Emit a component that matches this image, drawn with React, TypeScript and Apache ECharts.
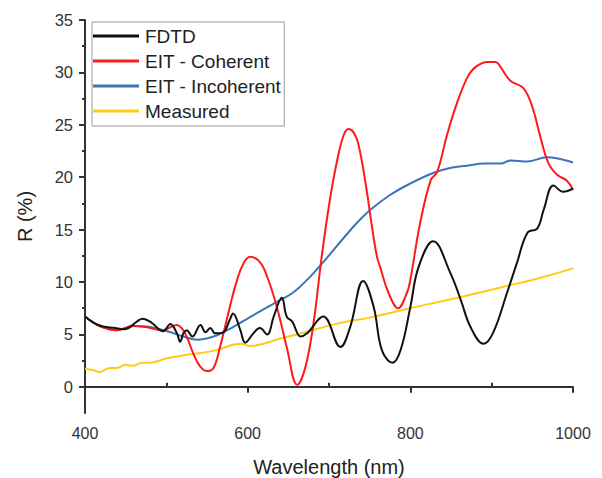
import React, { useEffect, useRef } from "react";
import * as echarts from "echarts";

const fdtdX = [400, 416, 437, 449, 465, 471, 482, 496, 505, 513, 517, 521, 525, 532, 542, 548, 554, 560, 570, 578, 582, 591, 597, 607, 615, 624, 632, 642, 648, 655, 665, 673, 693, 714, 726, 742, 755, 765, 778, 788, 800, 810, 828, 849, 862, 874, 890, 902, 919, 931, 944, 956, 964, 976, 988, 1000];
const fdtdY = [6.7, 5.9, 5.6, 5.5, 6.3, 6.5, 6.1, 5.3, 6.0, 5.1, 4.3, 5.1, 5.4, 4.8, 5.9, 5.2, 5.6, 5.1, 5.2, 6.4, 7.0, 5.4, 4.2, 5.1, 5.6, 5.0, 6.7, 8.5, 6.7, 6.2, 4.8, 5.1, 6.7, 3.8, 5.7, 10.1, 7.6, 3.5, 2.3, 3.5, 7.6, 11.4, 13.9, 10.9, 8.3, 5.7, 4.1, 5.2, 9.0, 11.8, 14.7, 15.1, 16.9, 19.2, 18.6, 18.9];

const cohX = [400, 418, 439, 459, 474, 495, 513, 519, 525, 533, 541, 550, 558, 566, 578, 587, 595, 603, 615, 624, 636, 648, 661, 671, 681, 691, 701, 710, 718, 724, 730, 736, 745, 753, 759, 763, 773, 785, 796, 800, 812, 825, 833, 845, 857, 870, 880, 895, 905, 911, 923, 939, 950, 960, 970, 981, 992, 1000];
const cohY = [6.7, 5.8, 5.4, 5.8, 5.7, 5.4, 5.9, 5.6, 4.8, 3.2, 2.0, 1.5, 1.8, 3.8, 7.6, 10.2, 11.8, 12.4, 11.9, 10.5, 7.6, 3.8, 0.2, 1.9, 6.1, 12.4, 17.8, 21.6, 24.0, 24.6, 24.3, 23.2, 19.4, 15.2, 12.4, 11.4, 9.0, 7.5, 9.0, 10.2, 15.6, 19.7, 20.5, 24.0, 27.0, 29.5, 30.5, 31.0, 31.0, 30.5, 29.2, 28.5, 26.7, 23.8, 21.3, 20.2, 19.7, 18.8];

const incX = [400, 418, 439, 459, 480, 501, 521, 538, 558, 575, 595, 615, 636, 656, 673, 693, 718, 735, 751, 775, 800, 828, 850, 870, 890, 911, 923, 944, 968, 980, 1000];
const incY = [6.7, 5.8, 5.4, 5.8, 5.7, 5.3, 4.8, 4.5, 4.8, 5.4, 6.3, 7.2, 8.1, 9.0, 10.2, 11.9, 14.2, 15.7, 16.9, 18.3, 19.4, 20.4, 20.9, 21.1, 21.3, 21.3, 21.6, 21.5, 21.9, 21.8, 21.4];

const measX = [400, 410, 418, 430, 439, 450, 459, 470, 480, 500, 521, 540, 562, 591, 603, 640, 665, 714, 750, 800, 858, 923, 960, 1000];
const measY = [1.7, 1.6, 1.4, 1.8, 1.8, 2.1, 2.0, 2.3, 2.3, 2.7, 3.0, 3.2, 3.5, 4.1, 3.9, 4.6, 5.1, 6.1, 6.6, 7.5, 8.5, 9.7, 10.4, 11.3];

const yMajor = [0, 5, 10, 15, 20, 25, 30, 35];
const yMinor = [2.5, 7.5, 12.5, 17.5, 22.5, 27.5, 32.5];
const xMinor = [500, 700, 900];

const seriesNames = ["FDTD", "EIT - Coherent", "EIT - Incoherent", "Measured"];
const seriesColors = ["#111111", "#ff1a1a", "#3f72b8", "#ffcc11"];

const zip = (xs: number[], ys: number[]) => xs.map((x, i) => [x, ys[i]]);

export default function App() {
  const ref = useRef<HTMLDivElement>(null);
  useEffect(() => {
    if (!ref.current) return;
    const chart = echarts.init(ref.current, undefined, { renderer: "svg" });
    const font = "Liberation Sans, Arial, sans-serif";
    const axisLineStyle = { color: "#333", width: 2 };
    const datasets = [zip(fdtdX, fdtdY), zip(cohX, cohY), zip(incX, incY), zip(measX, measY)];
    const order = [3, 2, 1, 0];
    chart.setOption({
      animation: false,
      backgroundColor: "#fff",
      textStyle: { fontFamily: font },
      grid: { left: 85, right: 29, top: 20, bottom: 65, containLabel: false, outerBoundsMode: "none" },
      legend: {
        data: seriesNames,
        orient: "vertical",
        left: 92,
        top: 22,
        padding: [4, 3, 5, 1],
        itemGap: 5,
        itemWidth: 46,
        itemHeight: 3,
        icon: "rect",
        borderColor: "#999",
        borderWidth: 1,
        textStyle: { fontSize: 19, color: "#222", fontFamily: font, lineHeight: 20, padding: [0, 0, 0, 1] },
      },
      xAxis: [
        {
          type: "value",
          min: 400,
          max: 1000,
          interval: 200,
          name: "Wavelength (nm)",
          nameLocation: "middle",
          nameGap: 44,
          nameTextStyle: { fontSize: 20, color: "#222", fontFamily: font },
          axisLine: { show: true, lineStyle: axisLineStyle },
          axisTick: { show: true, length: 6, lineStyle: { color: "#333", width: 2 } },
          axisLabel: { fontSize: 16, color: "#333", margin: 12, fontFamily: font, formatter: (v: number) => String(v) },
          splitLine: { show: false },
        },
        {
          type: "value",
          min: 400,
          max: 1000,
          position: "bottom",
          axisLine: { show: false },
          axisTick: { show: true, inside: true, length: 4, customValues: xMinor, lineStyle: { color: "#333", width: 2 } },
          axisLabel: { show: false },
          splitLine: { show: false },
        },
      ],
      yAxis: [
        {
          type: "value",
          min: -2.5,
          max: 35,
          name: "R (%)",
          nameLocation: "middle",
          nameGap: 50,
          nameRotate: 90,
          nameTextStyle: { fontSize: 20, color: "#222", fontFamily: font },
          axisLine: { show: true, lineStyle: axisLineStyle },
          axisTick: { show: true, length: 6, customValues: yMajor, lineStyle: { color: "#333", width: 2 } },
          axisLabel: { fontSize: 16.5, color: "#333", margin: 12, customValues: yMajor, fontFamily: font, formatter: (v: number) => String(v) },
          splitLine: { show: false },
        },
        {
          type: "value",
          min: -2.5,
          max: 35,
          position: "left",
          axisLine: { show: false },
          axisTick: { show: true, length: 3, customValues: yMinor, lineStyle: { color: "#333", width: 2 } },
          axisLabel: { show: false },
          splitLine: { show: false },
        },
      ],
      series: order.map((i) => ({
        name: seriesNames[i],
        type: "line",
        data: datasets[i],
        smooth: 0.4,
        showSymbol: false,
        symbol: "none",
        z: 10 - i,
        lineStyle: { color: seriesColors[i], width: 2 },
        itemStyle: { color: seriesColors[i] },
      })),
    });
    return () => chart.dispose();
  }, []);
  return <div ref={ref} style={{ position: "absolute", left: 0, top: 0, width: 602, height: 478 }} />;
}
